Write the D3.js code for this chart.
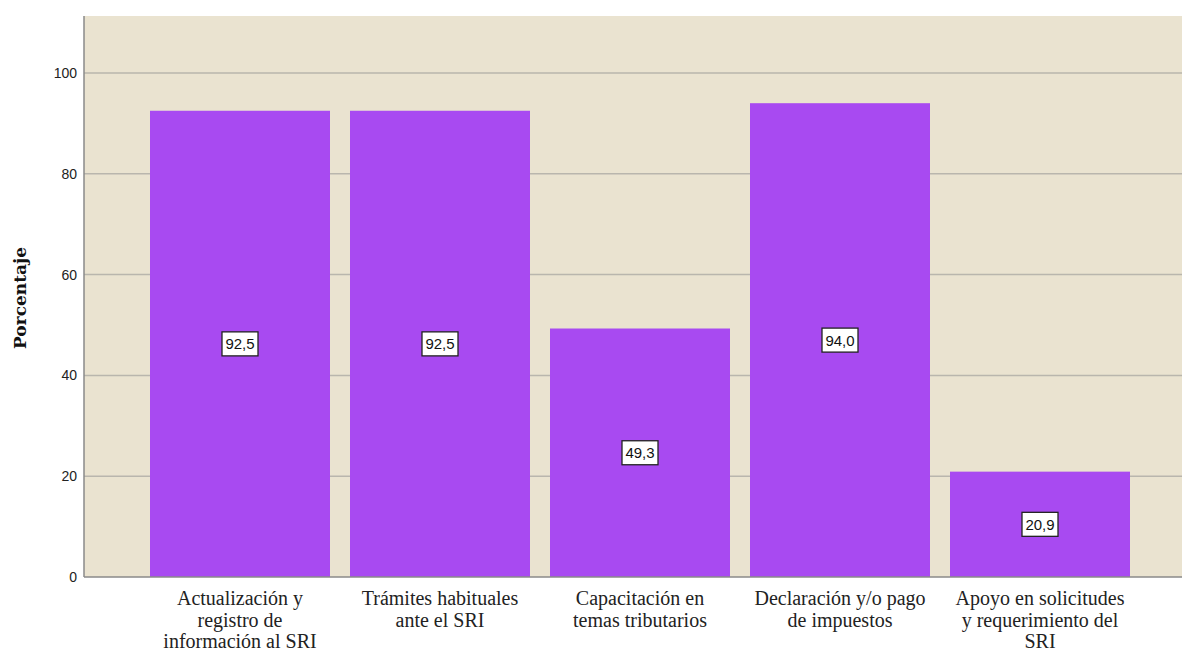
<!DOCTYPE html>
<html>
<head>
<meta charset="utf-8">
<script src="https://cdn.jsdelivr.net/npm/d3@7"></script>
<style>
  body { margin: 0; background: #fff; }
</style>
</head>
<body>
<div id="app"></div>
<script>
const width = 1182;
const height = 651;

const categories = [
  ['Actualización y', 'registro de', 'información al SRI'],
  ['Trámites habituales', 'ante el SRI'],
  ['Capacitación en', 'temas tributarios'],
  ['Declaración y/o pago', 'de impuestos'],
  ['Apoyo en solicitudes', 'y requerimiento del', 'SRI'],
];
const values = [92.5, 92.5, 49.3, 94.0, 20.9];
const yTicks = [0, 20, 40, 60, 80, 100];

const plot = {left: 84, top: 16, right: 1196, bottom: 577};
const serif = '"Liberation Serif", "Times New Roman", Times, serif';
const sans = 'Arial, "Liberation Sans", sans-serif';

const x = d3.scaleBand()
  .domain(d3.range(values.length))
  .range([140, 1140])
  .paddingInner(0.1)
  .paddingOuter(0.05);

const y = d3.scaleLinear()
  .domain([0, 111.3])
  .range([plot.bottom, plot.top]);

const svg = d3.create('svg')
  .attr('width', width)
  .attr('height', height);

svg.append('rect')
  .attr('x', plot.left)
  .attr('y', plot.top)
  .attr('width', plot.right - plot.left)
  .attr('height', plot.bottom - plot.top)
  .attr('fill', '#eae3d0');

// gridlines
svg.append('g')
  .selectAll('line')
  .data(yTicks.filter((d)=>d > 0))
  .join('line')
  .attr('x1', plot.left)
  .attr('x2', plot.right)
  .attr('y1', (d)=>y(d))
  .attr('y2', (d)=>y(d))
  .attr('stroke', '#b9b6ad')
  .attr('stroke-width', 1.5);

// bars
svg.append('g')
  .selectAll('rect')
  .data(values)
  .join('rect')
  .attr('x', (d, i)=>x(i))
  .attr('y', (d)=>y(d))
  .attr('width', x.bandwidth())
  .attr('height', (d)=>y(0) - y(d))
  .attr('fill', '#a84af1');

// y axis
const yAxis = svg.append('g')
  .attr('transform', `translate(${plot.left},0)`)
  .call(d3.axisLeft(y).tickValues(yTicks).tickSize(0).tickPadding(7));
yAxis.select('.domain').attr('stroke', '#8a8a8a').attr('stroke-width', 1.5)
  .attr('d', `M0,${plot.top}V${plot.bottom}`);
yAxis.selectAll('text')
  .attr('font-family', sans)
  .attr('font-size', 14)
  .attr('fill', '#222');

// x axis line
svg.append('line')
  .attr('x1', plot.left)
  .attr('x2', plot.right)
  .attr('y1', plot.bottom)
  .attr('y2', plot.bottom)
  .attr('stroke', '#8a8a8a')
  .attr('stroke-width', 1.5);

// category labels
const cat = svg.append('g')
  .selectAll('text')
  .data(categories)
  .join('text')
  .attr('x', (d, i)=>x(i) + x.bandwidth() / 2)
  .attr('y', 605)
  .attr('font-family', serif)
  .attr('font-size', 20)
  .attr('fill', '#222')
  .attr('text-anchor', 'middle');
cat.selectAll('tspan')
  .data((d)=>d)
  .join('tspan')
  .attr('x', function() { return this.parentNode.getAttribute('x'); })
  .attr('dy', (d, i)=>i === 0 ? 0 : 21.5)
  .attr('font-family', serif)
  .text((d)=>d);

// value labels
const lab = svg.append('g')
  .selectAll('g')
  .data(values)
  .join('g')
  .attr('transform', (d, i)=>`translate(${x(i) + x.bandwidth() / 2},${y(d / 2)})`);
lab.append('rect')
  .attr('x', -18)
  .attr('y', -12)
  .attr('width', 36)
  .attr('height', 24)
  .attr('fill', '#fff')
  .attr('stroke', '#222')
  .attr('stroke-width', 1.3);
lab.append('text')
  .attr('text-anchor', 'middle')
  .attr('dy', '0.36em')
  .attr('font-family', sans)
  .attr('font-size', 15)
  .attr('fill', '#111')
  .text((d)=>d3.format('.1f')(d).replace('.', ','));

// y title
svg.append('text')
  .attr('transform', `translate(26,298) rotate(-90)`)
  .attr('text-anchor', 'middle')
  .attr('font-family', '"DejaVu Serif", serif')
  .attr('font-weight', 'bold')
  .attr('font-size', 17)
  .attr('fill', '#111')
  .text('Porcentaje');

document.getElementById('app').appendChild(svg.node());
</script>
</body>
</html>
